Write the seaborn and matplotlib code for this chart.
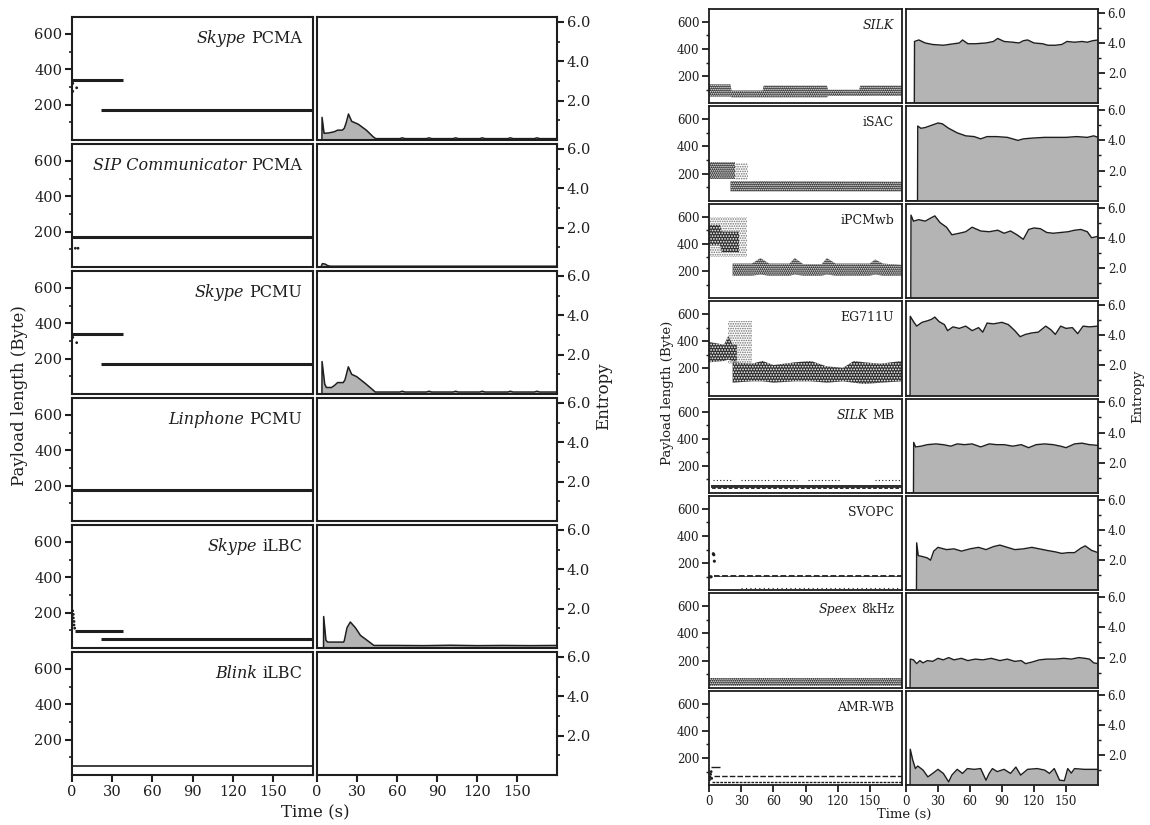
import matplotlib
matplotlib.use("Agg")
import matplotlib.pyplot as plt
import seaborn as sns
from matplotlib.ticker import FixedLocator

sns.set_style("ticks")
plt.rcParams['font.family'] = ['DejaVu Serif']
plt.rcParams['hatch.linewidth'] = 0.8
plt.rcParams['axes.edgecolor'] = '#2a2a2a'

# ---------------- data ----------------
x_ticks = [0, 30, 60, 90, 120, 150]
x_tick_labels = ["0", "30", "60", "90", "120", "150"]
pay_ticks = [200, 400, 600]
pay_minor = [100, 300, 500]
ent_ticks = [2.0, 4.0, 6.0]
ent_tick_labels = ["2.0", "4.0", "6.0"]
ent_minor = [1.0, 3.0, 5.0]

left_apps = ["Skype", "SIP Communicator", "Skype", "Linphone", "Skype", "Blink"]
left_codecs = ["PCMA", "PCMA", "PCMU", "PCMU", "iLBC", "iLBC"]
right_apps = ["SILK", "", "", "", "SILK", "", "Speex", ""]
right_codecs = ["", "iSAC", "iPCMwb", "EG711U", "MB", "SVOPC", "8kHz", "AMR-WB"]

# left payload: constant-length segments (start, end, length) and stray packets
pcma_seg_t0 = [0, 22]
pcma_seg_t1 = [38, 180]
pcma_seg_y = [341, 168]
pcma_pts_t = [3.5, 0.6, 0.6]
pcma_pts_y = [295, 320, 275]

sipc_seg_t0 = [0]
sipc_seg_t1 = [180]
sipc_seg_y = [172]
sipc_pts_t = [2.5, 4.5]
sipc_pts_y = [106, 106]

pcmu_seg_t0 = [0, 22]
pcmu_seg_t1 = [38, 180]
pcmu_seg_y = [339, 170]
pcmu_pts_t = [3.5, 0.6]
pcmu_pts_y = [290, 320]

linph_seg_t0 = [0]
linph_seg_t1 = [180]
linph_seg_y = [175]
linph_pts_t = []
linph_pts_y = []

ilbc_seg_t0 = [2, 22]
ilbc_seg_t1 = [38, 180]
ilbc_seg_y = [95, 50]
ilbc_pts_t = [0.5, 1.0, 1.0, 1.5, 1.5, 2.0]
ilbc_pts_y = [210, 190, 170, 150, 130, 112]

blink_seg_t0 = [0]
blink_seg_t1 = [180]
blink_seg_y = [49]
blink_pts_t = []
blink_pts_y = []

# left entropy
pcma_ent_t = [0, 3.7, 3.8, 5.3, 9, 13, 15.5, 19, 20.5, 22, 23.6, 26, 31, 37, 42, 44,
              62, 64, 66, 82, 84, 86, 102, 104, 106, 122, 124, 126, 143, 145, 147, 163, 165, 167, 180]
pcma_ent_v = [0, 0, 1.15, 0.34, 0.36, 0.42, 0.5, 0.5, 0.6, 0.9, 1.32, 0.95, 0.8, 0.5, 0.17, 0.07,
              0.07, 0.11, 0.07, 0.07, 0.11, 0.07, 0.07, 0.11, 0.07, 0.07, 0.11, 0.07, 0.07, 0.11, 0.07,
              0.07, 0.11, 0.07, 0.07]
sipc_ent_t = [0, 3, 4, 6, 8, 10, 180]
sipc_ent_v = [0, 0, 0.17, 0.15, 0.07, 0.04, 0.04]
pcmu_ent_t = [0, 3.7, 3.8, 5.8, 7.1, 10.9, 13.4, 15.4, 19.7, 21, 23.5, 26, 29.8, 36, 41.2, 43.7,
              62, 64, 66, 82, 84, 86, 102, 104, 106, 122, 124, 126, 143, 145, 147, 163, 165, 167, 180]
pcmu_ent_v = [0, 0, 1.65, 0.5, 0.33, 0.33, 0.45, 0.58, 0.58, 0.72, 1.38, 1.0, 0.88, 0.55, 0.25, 0.1,
              0.1, 0.14, 0.1, 0.1, 0.14, 0.1, 0.1, 0.14, 0.1, 0.1, 0.14, 0.1, 0.1, 0.14, 0.1,
              0.1, 0.14, 0.1, 0.1]
linph_ent_t = []
linph_ent_v = []
ilbc_ent_t = [0, 4.9, 5, 6.7, 8, 14, 20, 20.5, 22.5, 25, 28.8, 32.6, 36, 42.7, 60, 80, 100, 120, 140, 160, 180]
ilbc_ent_v = [0, 0, 1.6, 0.39, 0.3, 0.3, 0.3, 0.38, 1.03, 1.32, 1.03, 0.64, 0.47, 0.13, 0.13, 0.12, 0.14,
              0.12, 0.13, 0.12, 0.13]
blink_ent_t = []
blink_ent_v = []

# right payload: packet-length clouds (time, lower, upper); dense and sparse
silk_cloud_t = [0, 20, 21, 50, 51, 110, 111, 140, 141, 180]
silk_cloud_lo = [50, 50, 45, 45, 45, 45, 55, 55, 55, 55]
silk_cloud_hi = [140, 140, 95, 95, 130, 130, 100, 100, 130, 130]
isac_cloud1_t = [0, 24]
isac_cloud1_lo = [160, 160]
isac_cloud1_hi = [285, 285]
isac_sparse_t = [24, 36]
isac_sparse_lo = [150, 150]
isac_sparse_hi = [280, 280]
isac_cloud2_t = [20, 180]
isac_cloud2_lo = [70, 70]
isac_cloud2_hi = [145, 140]
ipcm_sparse_t = [0, 35]
ipcm_sparse_lo = [300, 300]
ipcm_sparse_hi = [600, 600]
ipcm_cloud1_t = [0, 10, 12, 28]
ipcm_cloud1_lo = [390, 390, 340, 340]
ipcm_cloud1_hi = [540, 540, 490, 490]
ipcm_cloud2_t = [22, 40, 48, 56, 75, 80, 88, 105, 110, 118, 150, 155, 162, 180]
ipcm_cloud2_lo = [165, 165, 175, 165, 165, 175, 165, 165, 175, 165, 165, 175, 165, 165]
ipcm_cloud2_hi = [255, 255, 295, 255, 255, 295, 250, 250, 295, 255, 255, 285, 255, 245]
eg711_sparse_t = [18, 40]
eg711_sparse_lo = [230, 230]
eg711_sparse_hi = [550, 550]
eg711_cloud1_t = [0, 14, 18, 22, 26]
eg711_cloud1_lo = [245, 255, 265, 255, 245]
eg711_cloud1_hi = [395, 375, 440, 375, 375]
eg711_cloud2_t = [22, 40, 50, 60, 80, 95, 110, 125, 135, 145, 160, 180]
eg711_cloud2_lo = [95, 105, 105, 95, 105, 105, 95, 105, 95, 85, 95, 105]
eg711_cloud2_hi = [245, 235, 255, 225, 245, 255, 215, 205, 255, 245, 235, 255]
silkmb_cloud_t = [2, 180]
silkmb_cloud_lo = [30, 30]
silkmb_cloud_hi = [62, 62]
silkmb_row_t0 = [4, 30, 60, 92, 155]
silkmb_row_t1 = [22, 56, 82, 122, 178]
silkmb_row_y = [95, 95, 95, 95, 95]
svopc_cloud_t = [5, 180]
svopc_cloud_lo = [97, 97]
svopc_cloud_hi = [115, 115]
svopc_row_t0 = [30]
svopc_row_t1 = [180]
svopc_row_y = [20]
svopc_pts_t = [4, 4.5, 5, 1, 2]
svopc_pts_y = [270, 262, 215, 100, 100]
speex_cloud_t = [0, 180]
speex_cloud_lo = [12, 12]
speex_cloud_hi = [75, 75]
amr_row_t0 = [5, 3, 2]
amr_row_t1 = [180, 180, 10]
amr_row_y = [70, 20, 135]
amr_pts_t = [0.5, 1, 1.5, 2, 2.5]
amr_pts_y = [40, 60, 80, 100, 50]

# right entropy
silk_ent_t = [0, 7.8, 8, 12, 18, 25, 35, 45, 50, 53, 58, 65, 75, 82, 86, 92, 100, 106, 110, 114,
              120, 128, 133, 140, 146, 151, 158, 165, 170, 175, 180]
silk_ent_v = [0, 0, 4.1, 4.2, 4.0, 3.9, 3.85, 3.95, 4.0, 4.2, 3.95, 3.95, 4.0, 4.1, 4.3, 4.1, 4.05, 4.0,
              4.15, 4.2, 4.0, 3.95, 3.85, 3.85, 3.9, 4.1, 4.05, 4.1, 4.05, 4.15, 4.2]
isac_ent_t = [0, 10.8, 11, 14, 18, 24, 30, 34, 40, 48, 56, 64, 70, 76, 85, 95, 105, 110, 118, 130,
              140, 150, 160, 170, 176, 180]
isac_ent_v = [0, 0, 4.95, 4.8, 4.85, 5.0, 5.15, 5.1, 4.8, 4.5, 4.3, 4.25, 4.1, 4.25, 4.25, 4.2, 4.0,
              4.1, 4.15, 4.2, 4.2, 4.2, 4.25, 4.2, 4.3, 4.2]
ipcm_ent_t = [0, 4.5, 4.7, 7, 12, 18, 23, 27, 32, 38, 43, 50, 56, 62, 70, 78, 86, 92, 98, 104,
              110, 115, 120, 126, 132, 138, 145, 152, 158, 164, 170, 174, 180]
ipcm_ent_v = [0, 0, 5.5, 5.1, 5.2, 5.1, 5.3, 5.45, 5.0, 4.7, 4.2, 4.3, 4.4, 4.7, 4.45, 4.4, 4.5, 4.3,
              4.45, 4.2, 3.9, 4.55, 4.65, 4.6, 4.35, 4.3, 4.35, 4.4, 4.5, 4.55, 4.4, 4.0, 4.1]
eg711_ent_t = [0, 3.8, 4, 7, 10, 15, 20, 24, 27, 31, 36, 39, 44, 50, 56, 62, 68, 72, 76, 82,
               90, 96, 102, 107, 112, 118, 124, 131, 136, 140, 145, 150, 156, 161, 166, 172, 180]
eg711_ent_v = [0, 0, 5.25, 4.9, 4.6, 4.85, 4.95, 5.05, 5.2, 4.9, 4.7, 4.3, 4.55, 4.45, 4.6, 4.3, 4.5,
               4.2, 4.8, 4.75, 4.85, 4.7, 4.3, 3.9, 4.05, 4.15, 4.2, 4.6, 4.35, 4.05, 4.6, 4.45, 4.5,
               4.1, 4.6, 4.55, 4.6]
silkmb_ent_t = [0, 7, 7.2, 9, 14, 20, 28, 35, 42, 48, 55, 62, 70, 78, 85, 92, 100, 108, 115, 122,
                130, 138, 145, 150, 158, 165, 172, 180]
silkmb_ent_v = [0, 0, 3.35, 3.05, 3.1, 3.2, 3.25, 3.2, 3.1, 3.25, 3.2, 3.25, 3.05, 3.25, 3.2, 3.2,
                3.1, 3.2, 3.0, 3.2, 3.25, 3.2, 3.1, 3.0, 3.25, 3.3, 3.2, 3.15]
svopc_ent_t = [0, 9.8, 10, 11.5, 15, 20, 23, 26, 30, 38, 45, 52, 60, 68, 75, 82, 88, 95, 102, 110,
               118, 125, 132, 140, 146, 152, 158, 164, 168, 174, 180]
svopc_ent_v = [0, 0, 3.15, 2.3, 2.25, 2.15, 2.0, 2.6, 2.85, 2.7, 2.75, 2.6, 2.75, 2.85, 2.7, 2.9, 3.0,
               2.85, 2.7, 2.75, 2.85, 2.75, 2.65, 2.55, 2.45, 2.5, 2.5, 2.8, 2.95, 2.65, 2.5]
speex_ent_t = [0, 3.8, 4, 7, 10, 13, 16, 20, 25, 30, 35, 40, 45, 52, 58, 65, 72, 80, 88, 95,
               102, 108, 112, 118, 125, 132, 140, 148, 155, 162, 168, 172, 176, 180]
speex_ent_v = [0, 0, 1.9, 1.85, 1.6, 1.8, 1.65, 1.8, 1.75, 1.95, 1.85, 2.0, 1.85, 1.95, 1.8, 1.9,
               1.85, 1.95, 1.8, 1.9, 1.75, 1.8, 1.6, 1.7, 1.85, 1.9, 1.9, 1.95, 1.9, 2.0, 1.95, 1.9,
               1.65, 1.6]
amr_ent_t = [0, 3.8, 4, 6.3, 8.8, 11, 16, 20.5, 25, 30, 35, 40, 43, 48, 53, 57.5, 64, 70, 75, 78,
             81, 85.5, 92, 98, 103, 107.5, 114, 123, 130, 134.5, 139, 144, 148.5, 151.6, 155, 158,
             167, 180]
amr_ent_v = [0, 0, 2.38, 1.67, 1.1, 1.27, 1.0, 0.55, 0.78, 1.05, 0.78, 0.22, 0.67, 1.05, 0.78, 1.1,
             1.05, 1.1, 0.33, 0.78, 1.1, 0.9, 1.05, 0.78, 1.2, 0.67, 1.05, 1.1, 1.0, 0.78, 1.1, 0.33,
             0.3, 1.1, 0.8, 1.1, 1.05, 1.05]

# ---------------- figure ----------------
W, H = 1150, 825
fig = plt.figure(figsize=(W / 100, H / 100), dpi=100)
INK = '#1e1e1e'
FILL = '#b4b4b4'


def rect(l, t, r, b):
    return [l / W, 1 - b / H, (r - l) / W, (b - t) / H]


def style_common(ax, fs, bottom, lw):
    ax.set_xlim(0, 180)
    ax.xaxis.set_major_locator(FixedLocator(x_ticks))
    ax.set_xticklabels(x_tick_labels)
    ax.tick_params(axis='y', which='major', labelsize=fs, length=5, width=lw, colors=INK, pad=2)
    ax.tick_params(axis='y', which='minor', length=2.5, width=lw * 0.8, colors=INK)
    ax.tick_params(axis='x', labelsize=fs, length=5, width=lw, colors=INK, pad=2,
                   labelbottom=bottom)
    if not bottom:
        ax.tick_params(axis='x', length=0)
    for s in ax.spines.values():
        s.set_linewidth(lw)
        s.set_color(INK)


def style_pay(ax, fs, bottom, lw):
    ax.set_ylim(0, 695)
    ax.yaxis.set_major_locator(FixedLocator(pay_ticks))
    ax.yaxis.set_minor_locator(FixedLocator(pay_minor))
    style_common(ax, fs, bottom, lw)


def style_ent(ax, fs, bottom, lw):
    ax.set_ylim(0, 6.25)
    ax.yaxis.tick_right()
    ax.yaxis.set_major_locator(FixedLocator(ent_ticks))
    ax.set_yticklabels(ent_tick_labels)
    ax.yaxis.set_minor_locator(FixedLocator(ent_minor))
    style_common(ax, fs, bottom, lw)


def draw_entropy(ax, t, v, lw):
    if len(t) == 0:
        return
    ax.fill_between(t, v, 0, color=FILL, linewidth=0)
    sns.lineplot(x=t, y=v, ax=ax, estimator=None, sort=False, color=INK, linewidth=lw)


def draw_segments(ax, t0, t1, y, lw):
    if len(y):
        ax.hlines(y, t0, t1, colors=INK, linewidth=lw)


def draw_points(ax, t, y, s):
    if len(t):
        sns.scatterplot(x=t, y=y, ax=ax, s=s, color=INK, edgecolor='none', linewidth=0)


def draw_cloud(ax, t, lo, hi, hatch='........'):
    # dense packet cloud: dark band speckled with white
    ax.fill_between(t, lo, hi, facecolor='#303030', edgecolor='white', hatch=hatch, linewidth=0)


def draw_sparse(ax, t, lo, hi, hatch='.......'):
    # sparse packet cloud: scattered dark dots
    ax.fill_between(t, lo, hi, facecolor='none', edgecolor='#707070', hatch=hatch, linewidth=0)


def label(ax, app, codec, fs, dx, dy):
    if codec:
        t1 = ax.annotate(codec, xy=(1, 1), xycoords='axes fraction', xytext=(-dx, -dy),
                         textcoords='offset pixels', ha='right', va='baseline',
                         fontsize=fs, color=INK)
        if app:
            ax.annotate(app, xy=(0, 0), xycoords=t1, xytext=(-fs * 0.3, 0),
                        textcoords='offset points', ha='right', va='bottom',
                        fontsize=fs, style='italic', color=INK)
    else:
        ax.annotate(app, xy=(1, 1), xycoords='axes fraction', xytext=(-dx, -dy),
                    textcoords='offset pixels', ha='right', va='baseline',
                    fontsize=fs, style='italic', color=INK)


# ---- left group ----
left_seg = [(pcma_seg_t0, pcma_seg_t1, pcma_seg_y), (sipc_seg_t0, sipc_seg_t1, sipc_seg_y),
            (pcmu_seg_t0, pcmu_seg_t1, pcmu_seg_y), (linph_seg_t0, linph_seg_t1, linph_seg_y),
            (ilbc_seg_t0, ilbc_seg_t1, ilbc_seg_y), (blink_seg_t0, blink_seg_t1, blink_seg_y)]
left_pts = [(pcma_pts_t, pcma_pts_y), (sipc_pts_t, sipc_pts_y), (pcmu_pts_t, pcmu_pts_y),
            (linph_pts_t, linph_pts_y), (ilbc_pts_t, ilbc_pts_y), (blink_pts_t, blink_pts_y)]
left_ent = [(pcma_ent_t, pcma_ent_v), (sipc_ent_t, sipc_ent_v), (pcmu_ent_t, pcmu_ent_v),
            (linph_ent_t, linph_ent_v), (ilbc_ent_t, ilbc_ent_v), (blink_ent_t, blink_ent_v)]
seg_lw = [2.2, 2.2, 2.2, 2.2, 2.2, 1.2]

L_TOP, L_H, L_GAP = 17, 123, 4
for i in range(6):
    top = L_TOP + i * (L_H + L_GAP)
    bot = top + L_H
    bottom = (i == 5)
    axp = fig.add_axes(rect(72, top, 313, bot))
    axe = fig.add_axes(rect(317, top, 557, bot))
    t0, t1, y = left_seg[i]
    draw_segments(axp, t0, t1, y, seg_lw[i])
    pt, py = left_pts[i]
    draw_points(axp, pt, py, 4)
    et, ev = left_ent[i]
    draw_entropy(axe, et, ev, 1.1)
    style_pay(axp, 10.5, bottom, 1.5)
    style_ent(axe, 10.5, bottom, 1.5)
    label(axp, left_apps[i], left_codecs[i], 11.5, 11, 26)

fig.text(20 / W, 1 - 396 / H, "Payload length (Byte)", rotation=90, ha='center', va='center',
         fontsize=12, color=INK)
fig.text(604 / W, 1 - 396 / H, "Entropy", rotation=90, ha='center', va='center',
         fontsize=12, color=INK)
fig.text(315 / W, 1 - 813 / H, "Time (s)", ha='center', va='center', fontsize=12, color=INK)

# ---- right group ----
R_TOP, R_H, R_GAP = 9, 94.4, 3
right_ent = [(silk_ent_t, silk_ent_v), (isac_ent_t, isac_ent_v), (ipcm_ent_t, ipcm_ent_v),
             (eg711_ent_t, eg711_ent_v), (silkmb_ent_t, silkmb_ent_v), (svopc_ent_t, svopc_ent_v),
             (speex_ent_t, speex_ent_v), (amr_ent_t, amr_ent_v)]
rp = []
for i in range(8):
    top = R_TOP + i * (R_H + R_GAP)
    bot = top + R_H
    bottom = (i == 7)
    axp = fig.add_axes(rect(709, top, 902, bot))
    axe = fig.add_axes(rect(906, top, 1098, bot))
    rp.append(axp)
    et, ev = right_ent[i]
    draw_entropy(axe, et, ev, 1.0)
    style_pay(axp, 8.5, bottom, 1.3)
    style_ent(axe, 8.5, bottom, 1.3)
    label(axp, right_apps[i], right_codecs[i], 9, 8, 20)

draw_cloud(rp[0], silk_cloud_t, silk_cloud_lo, silk_cloud_hi)
draw_cloud(rp[1], isac_cloud1_t, isac_cloud1_lo, isac_cloud1_hi)
draw_sparse(rp[1], isac_sparse_t, isac_sparse_lo, isac_sparse_hi)
draw_cloud(rp[1], isac_cloud2_t, isac_cloud2_lo, isac_cloud2_hi)
draw_sparse(rp[2], ipcm_sparse_t, ipcm_sparse_lo, ipcm_sparse_hi)
draw_cloud(rp[2], ipcm_cloud1_t, ipcm_cloud1_lo, ipcm_cloud1_hi, hatch='......')
draw_cloud(rp[2], ipcm_cloud2_t, ipcm_cloud2_lo, ipcm_cloud2_hi)
draw_sparse(rp[3], eg711_sparse_t, eg711_sparse_lo, eg711_sparse_hi)
draw_cloud(rp[3], eg711_cloud1_t, eg711_cloud1_lo, eg711_cloud1_hi, hatch='......')
draw_cloud(rp[3], eg711_cloud2_t, eg711_cloud2_lo, eg711_cloud2_hi, hatch='......')
draw_cloud(rp[4], silkmb_cloud_t, silkmb_cloud_lo, silkmb_cloud_hi, hatch='...')
rp[4].hlines(silkmb_row_y, silkmb_row_t0, silkmb_row_t1, colors=INK, linewidth=0.8,
             linestyles=(0, (1, 2)))
draw_cloud(rp[5], svopc_cloud_t, svopc_cloud_lo, svopc_cloud_hi, hatch='..')
rp[5].hlines(svopc_row_y, svopc_row_t0, svopc_row_t1, colors=INK, linewidth=0.8,
             linestyles=(0, (1, 3)))
draw_points(rp[5], svopc_pts_t, svopc_pts_y, 5)
draw_cloud(rp[6], speex_cloud_t, speex_cloud_lo, speex_cloud_hi)
rp[7].hlines(amr_row_y, amr_row_t0, amr_row_t1, colors=INK, linewidth=1.0,
             linestyles=[(0, (4, 1.5)), (0, (2, 0.8)), 'solid'])
draw_points(rp[7], amr_pts_t, amr_pts_y, 4)

fig.text(667 / W, 1 - 393 / H, "Payload length (Byte)", rotation=90, ha='center', va='center',
         fontsize=9.5, color=INK)
fig.text(1138 / W, 1 - 396 / H, "Entropy", rotation=90, ha='center', va='center',
         fontsize=9.5, color=INK)
fig.text(904 / W, 1 - 814 / H, "Time (s)", ha='center', va='center', fontsize=9.5, color=INK)

fig.savefig("out.png", dpi=100, facecolor='white')
